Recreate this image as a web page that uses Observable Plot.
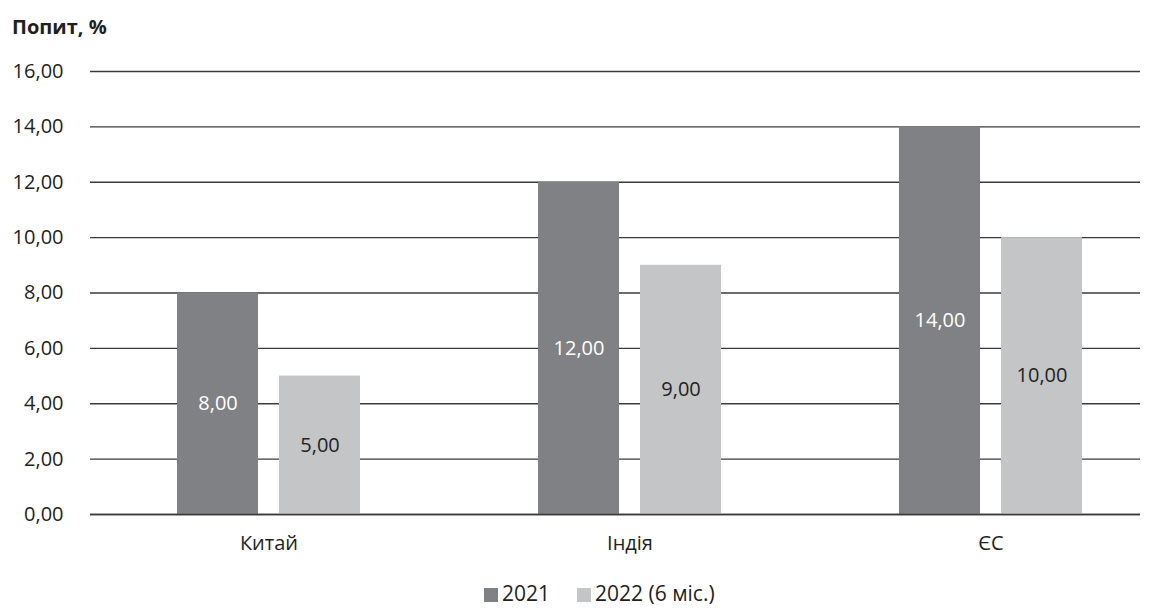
<!DOCTYPE html>
<html>
<head>
<meta charset="utf-8">
<script src="https://cdn.jsdelivr.net/npm/d3@7"></script>
<script src="https://cdn.jsdelivr.net/npm/@observablehq/plot@0.6"></script>
<style>
  body { margin: 0; background: #fff; font-family: "Open Sans", sans-serif; color: #231f20; overflow: hidden; }
  #title { height: 44px; line-height: 54px; padding-left: 12px; font-weight: 700; font-size: 20px; }
  #legend { height: 24px; margin-top: 17px; display: flex; align-items: center; padding-left: 484px; font-size: 21px; line-height: 1; }
  .sw { display: inline-block; width: 14px; height: 14px; margin-right: 4px; margin-top: 3px; }
  .item { display: flex; align-items: center; margin-right: 27px; line-height: 1; }
</style>
</head>
<body>
<div id="title">Попит, %</div>
<div id="chart"></div>
<div id="legend"></div>
<script>
const categories = ["Китай", "Індія", "ЄС"];
const series = ["2021", "2022 (6 міс.)"];
const values2021 = [8, 12, 14];
const values2022 = [5, 9, 10];
const yTicks = [0, 2, 4, 6, 8, 10, 12, 14, 16];
const colors = ["#808184", "#c4c5c7"];
const labelColors = ["#ffffff", "#231f20"];

const data = categories.flatMap((c, i) => [
  {category: c, series: series[0], value: values2021[i], s: 0},
  {category: c, series: series[1], value: values2022[i], s: 1}
]);
const fmt = d => d.toFixed(2).replace(".", ",");

const chart = Plot.plot({
  width: 1160,
  height: 520,
  marginTop: 27,
  marginBottom: 50,
  marginLeft: 90,
  marginRight: 20,
  style: {fontFamily: "Open Sans, sans-serif", fontSize: "20px", color: "#231f20", background: "#fff"},
  x: {type: "band", domain: categories, range: [88, 1171], padding: 0, label: null},
  y: {domain: [0, 16], label: null},
  marks: [
    Plot.ruleY(yTicks, {stroke: "#3a3a3a", strokeWidth: 1.3}),
    Plot.barY(data.filter(d => d.s === 0), {x: "category", y: "value", fill: colors[0], insetLeft: 89, insetRight: 191}),
    Plot.barY(data.filter(d => d.s === 1), {x: "category", y: "value", fill: colors[1], insetLeft: 191, insetRight: 89}),
    Plot.ruleY([0], {stroke: "#3a3a3a", strokeWidth: 1.5}),
    Plot.text(data.filter(d => d.s === 0), {x: "category", y: d => d.value / 2, text: d => fmt(d.value), fill: labelColors[0], dx: -51, fontSize: 20}),
    Plot.text(data.filter(d => d.s === 1), {x: "category", y: d => d.value / 2, text: d => fmt(d.value), fill: labelColors[1], dx: 51, fontSize: 20}),
    Plot.axisY({ticks: yTicks, tickFormat: fmt, tickSize: 0, tickPadding: 27, fontSize: 20}),
    Plot.axisX({tickSize: 0, tickPadding: 21, fontSize: 20})
  ]
});
document.getElementById("chart").appendChild(chart);

const legend = document.getElementById("legend");
series.forEach((s, i) => {
  const item = document.createElement("span");
  item.className = "item";
  item.innerHTML = `<span class="sw" style="background:${colors[i]}"></span><span>${s}</span>`;
  legend.appendChild(item);
});
</script>
</body>
</html>
